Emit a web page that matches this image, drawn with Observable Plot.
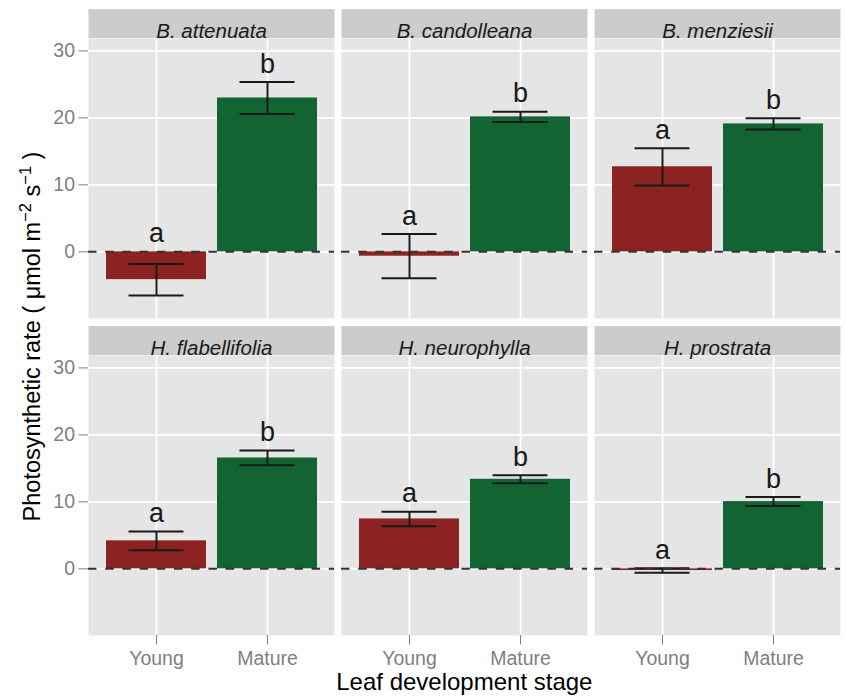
<!DOCTYPE html>
<html>
<head>
<meta charset="utf-8">
<script src="https://cdn.jsdelivr.net/npm/d3@7"></script>
<script src="https://cdn.jsdelivr.net/npm/@observablehq/plot@0.6"></script>
<style>
  body { margin: 0; background: #ffffff; }
  #chart svg { display: block; }
</style>
</head>
<body>
<div id="chart"></div>
<script>
// ---- data ----
const species = ["B. attenuata", "B. candolleana", "B. menziesii",
                 "H. flabellifolia", "H. neurophylla", "H. prostrata"];
const stages = ["Young", "Mature"];
const youngMean  = [-4.15, -0.65, 12.7, 4.18, 7.45, -0.25];
const youngSE    = [2.35, 3.3, 2.78, 1.39, 1.09, 0.33];
const matureMean = [22.97, 20.15, 19.1, 16.55, 13.37, 10.04];
const matureSE   = [2.39, 0.75, 0.85, 1.1, 0.6, 0.67];
const letters = ["a", "b"];
const yTicks = [0, 10, 20, 30];
const xTitle = "Leaf development stage";

const rows = species.flatMap((sp, i) => [
  {species: sp, stage: stages[0], mean: youngMean[i], se: youngSE[i], letter: letters[0], col: i % 3, row: Math.floor(i / 3)},
  {species: sp, stage: stages[1], mean: matureMean[i], se: matureSE[i], letter: letters[1], col: i % 3, row: Math.floor(i / 3)}
]);

// ---- layout ----
const W = 846, H = 697;
const mL = 87, mR = 4.3, mT = 37.7, mB = 61.7;
const colGap = 7, rowGap = 36.8, stripH = 29.4;
const panelW = (W - mL - mR - 2 * colGap) / 3;
const panelH = (H - mT - mB - rowGap) / 2;
const fxPad = colGap / (panelW + colGap);
const fyPad = rowGap / (panelH + rowGap);

const red = "#8B2323", green = "#126532";
const font = "'Liberation Sans', Arial, Helvetica, sans-serif";

const chart = Plot.plot({
  width: W, height: H,
  marginLeft: mL, marginRight: mR, marginTop: mT, marginBottom: mB,
  style: {fontFamily: font, background: "#ffffff"},
  fx: {domain: [0, 1, 2], axis: null, paddingInner: fxPad, paddingOuter: 0},
  fy: {domain: [0, 1], axis: null, paddingInner: fyPad, paddingOuter: 0},
  x: {domain: stages, paddingInner: 0.1, paddingOuter: 0.15, label: null},
  y: {domain: [-9.95, 31.85], label: null},
  color: {domain: stages, range: [red, green]},
  marks: [
    Plot.frame({fill: "#E5E5E5", stroke: "none"}),
    Plot.frame({fill: "#CCCCCC", stroke: "none", insetTop: -stripH, insetBottom: panelH}),
    Plot.gridY(yTicks, {stroke: "#ffffff", strokeOpacity: 1, strokeWidth: 1.8}),
    Plot.gridX({stroke: "#ffffff", strokeOpacity: 1, strokeWidth: 1.8}),
    Plot.text(species, {
      fx: (d, i) => i % 3, fy: (d, i) => Math.floor(i / 3),
      text: d => d, frameAnchor: "top", dy: -stripH / 2,
      fontStyle: "italic", fontSize: 20.5, fill: "#1A1A1A"
    }),
    Plot.barY(rows, {fx: "col", fy: "row", x: "stage", y1: 0, y2: "mean", fill: "stage"}),
    Plot.ruleX(rows, {fx: "col", fy: "row", x: "stage",
      y1: d => d.mean - d.se, y2: d => d.mean + d.se, stroke: "#1A1A1A", strokeWidth: 2}),
    Plot.tickY(rows, {fx: "col", fy: "row", x: "stage", y: d => d.mean + d.se,
      insetLeft: 22.5, insetRight: 22.5, stroke: "#1A1A1A", strokeWidth: 2}),
    Plot.tickY(rows, {fx: "col", fy: "row", x: "stage", y: d => d.mean - d.se,
      insetLeft: 22.5, insetRight: 22.5, stroke: "#1A1A1A", strokeWidth: 2}),
    Plot.ruleY([0], {stroke: "#333333", strokeWidth: 2, strokeDasharray: "8.5,8.7"}),
    Plot.text(rows, {fx: "col", fy: "row", x: "stage",
      y: d => Math.max(0, d.mean + d.se) + 1.4, text: "letter",
      lineAnchor: "bottom", fontSize: 27, fill: "#1A1A1A"}),
    Plot.axisY(yTicks, {anchor: "left", tickSize: 9.5, tickPadding: 4, fontSize: 19.5,
      color: "#7F7F7F", label: null}),
    Plot.axisX({anchor: "bottom", tickSize: 9.5, tickPadding: 6, fontSize: 19.5,
      color: "#7F7F7F", label: null})
  ]
});

document.getElementById("chart").appendChild(chart);

// ---- axis titles ----
const svg = d3.select(chart);
svg.append("text")
  .attr("x", mL + (W - mL - mR) / 2)
  .attr("y", 690)
  .attr("text-anchor", "middle")
  .attr("font-family", font)
  .attr("font-size", 24)
  .attr("fill", "#000000")
  .text(xTitle);

const yt = svg.append("text")
  .attr("transform", `translate(39.5,${mT + (H - mT - mB) / 2}) rotate(-90)`)
  .attr("text-anchor", "middle")
  .attr("font-family", font)
  .attr("font-size", 23.5)
  .attr("fill", "#000000");
yt.append("tspan").text("Photosynthetic rate ( \u03BCmol m");
yt.append("tspan").attr("dy", -9).attr("font-size", 16.5).text("\u22122");
yt.append("tspan").attr("dy", 9).text(" s");
yt.append("tspan").attr("dy", -9).attr("font-size", 16.5).text("\u22121");
yt.append("tspan").attr("dy", 9).text(" )");
</script>
</body>
</html>
